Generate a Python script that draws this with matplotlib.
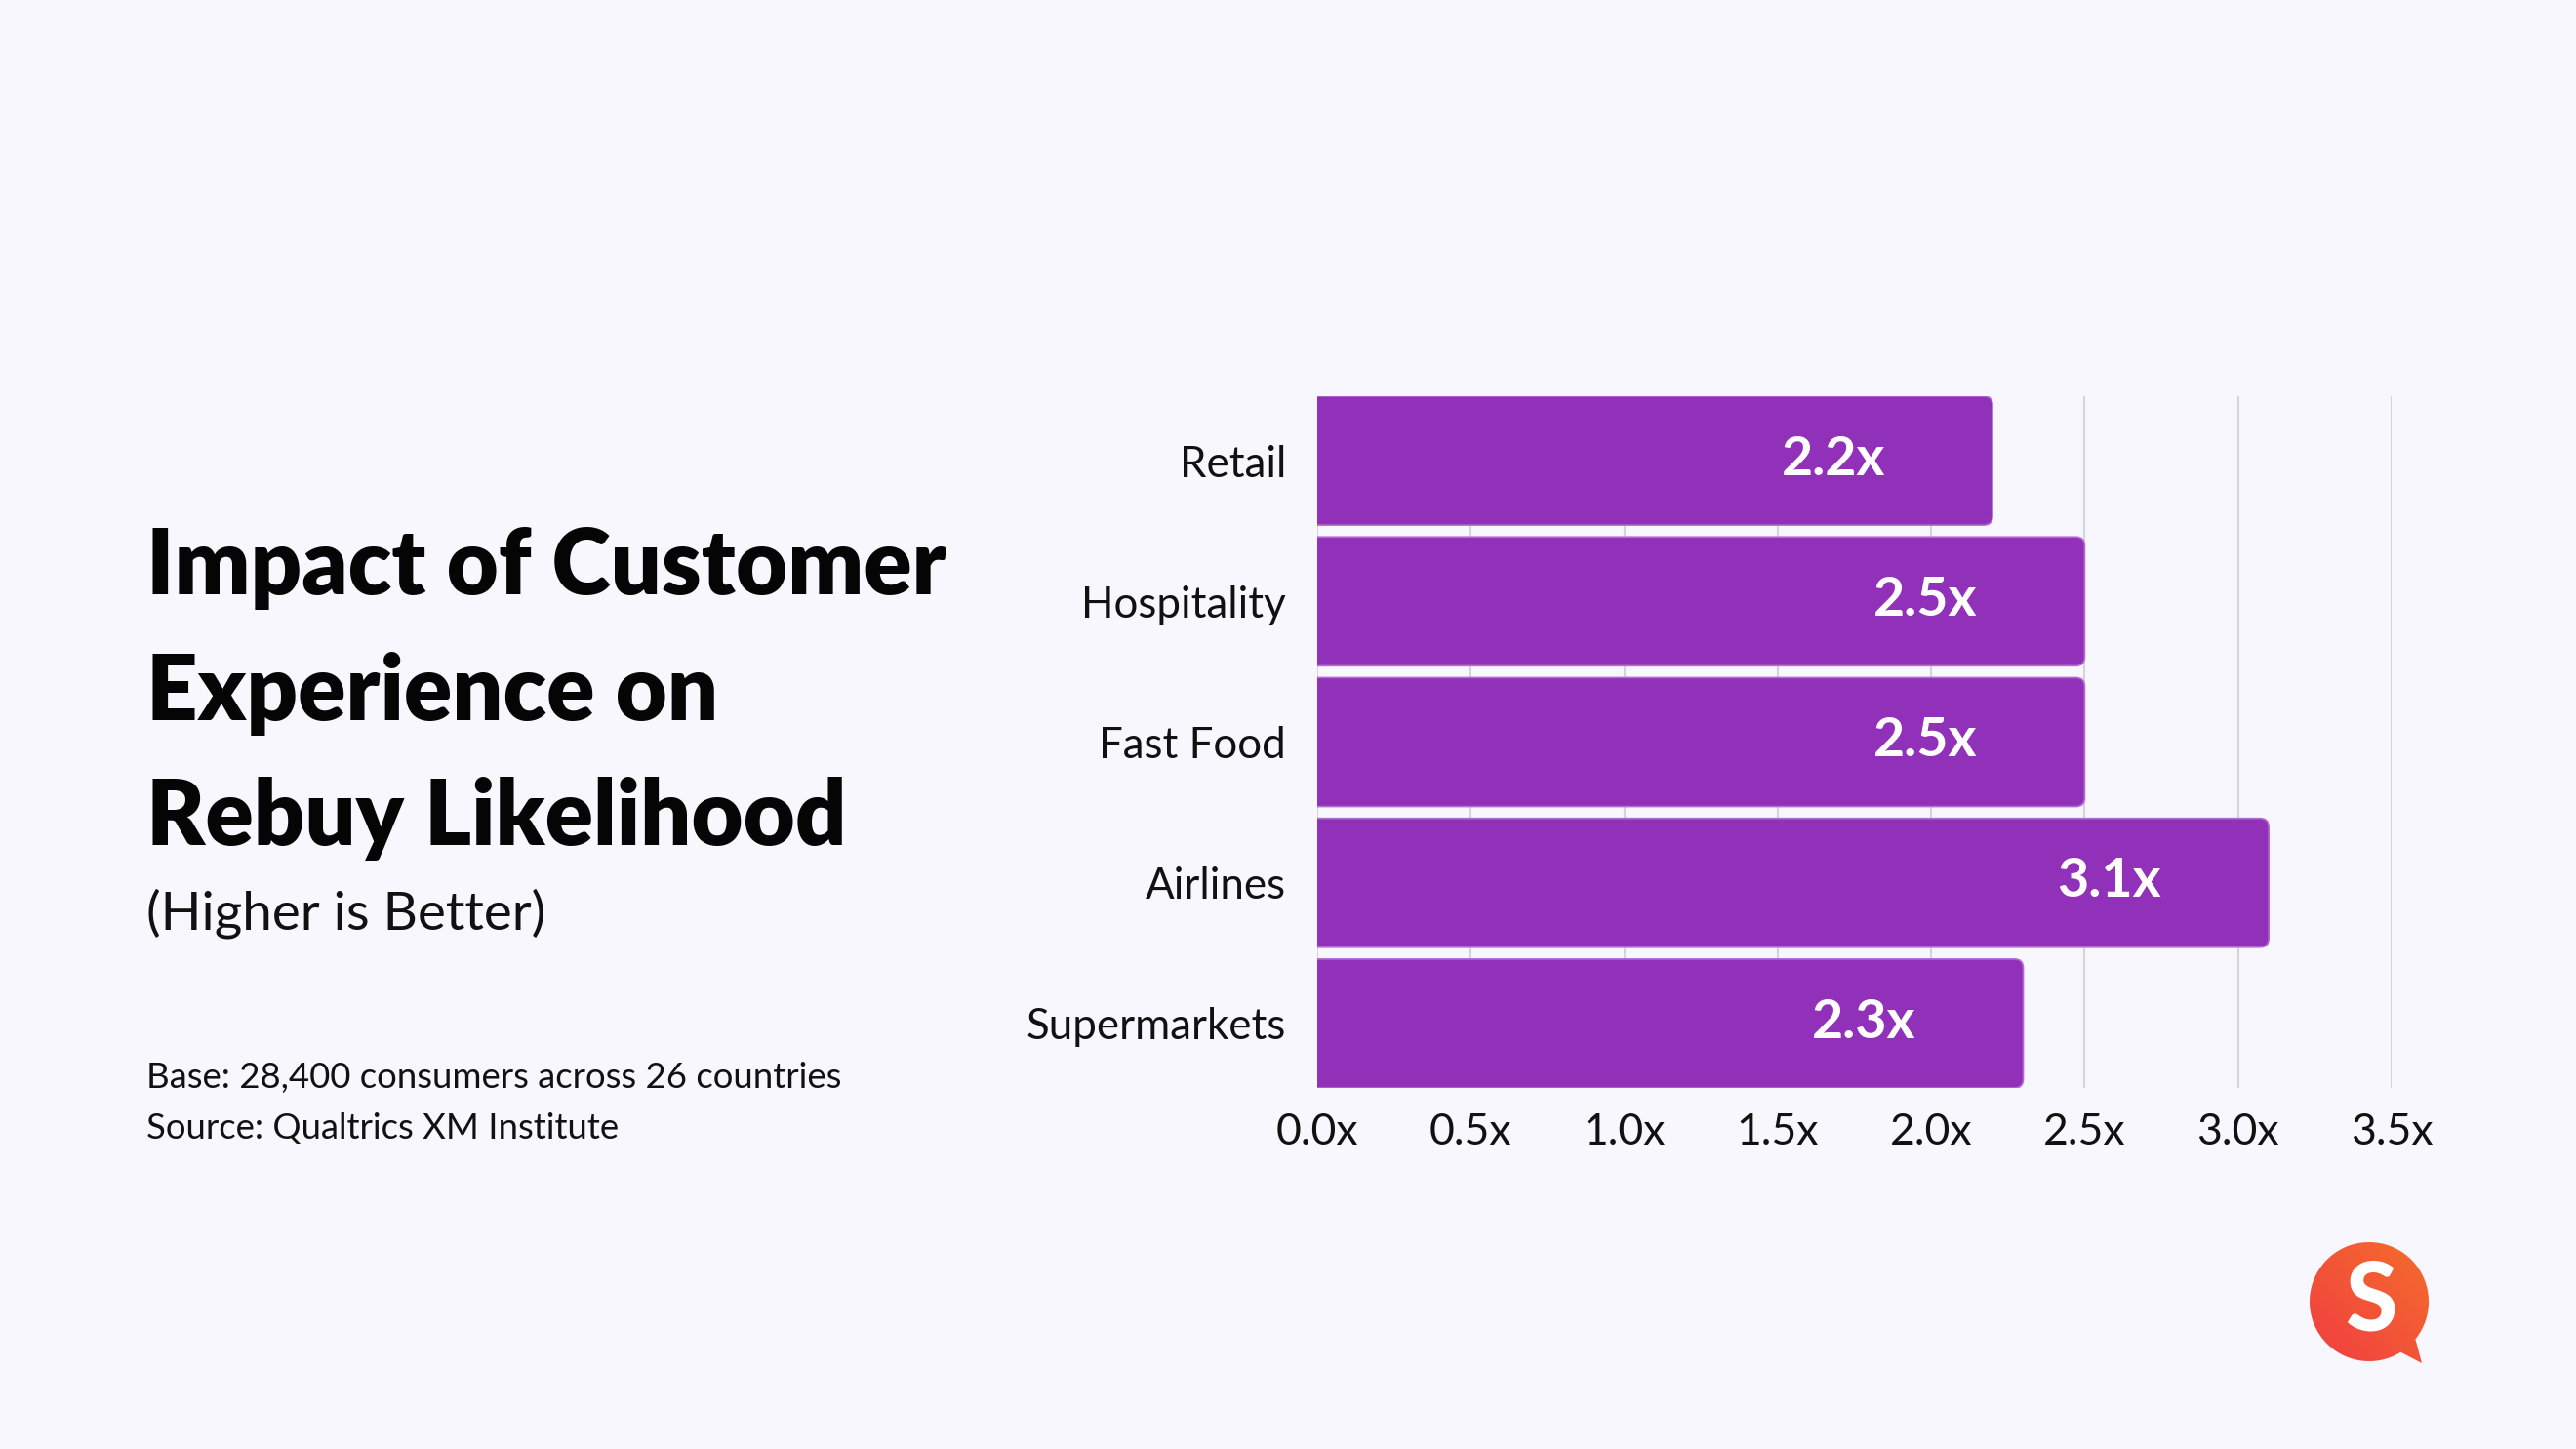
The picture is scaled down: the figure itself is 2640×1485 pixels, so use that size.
import matplotlib
matplotlib.use("Agg")
import matplotlib.pyplot as plt
import numpy as np
from matplotlib.patches import FancyBboxPatch, Polygon

categories = ["Retail", "Hospitality", "Fast Food", "Airlines", "Supermarkets"]
values = [2.2, 2.5, 2.5, 3.1, 2.3]
value_labels = ["2.2x", "2.5x", "2.5x", "3.1x", "2.3x"]
xticks = [0.0, 0.5, 1.0, 1.5, 2.0, 2.5, 3.0, 3.5]
xtick_labels = ["0.0x", "0.5x", "1.0x", "1.5x", "2.0x", "2.5x", "3.0x", "3.5x"]

title_lines = ["Impact of Customer", "Experience on", "Rebuy Likelihood"]
subtitle = "(Higher is Better)"
footer_lines = ["Base: 28,400 consumers across 26 countries", "Source: Qualtrics XM Institute"]

BG = "#F9F7FE"
BAR = "#9130B8"
GRID = "#D6D3DC"

plt.rcParams['font.family'] = ['Lato', 'DejaVu Sans']

W, H = 2640, 1485
fig = plt.figure(figsize=(W / 100, H / 100), dpi=100, facecolor=BG)

ax = fig.add_axes([1350 / W, 1 - 1115 / H, (2451 - 1350) / W, (1115 - 406) / H])
ax.set_facecolor(BG)
bh = 0.916
y = np.arange(len(categories))
bars = ax.barh(y, values, height=bh, color=BAR, zorder=2)
ax.set_xlim(0, 3.5)
ax.set_ylim(len(categories) - 1 + bh / 2, -bh / 2)

# rounded right corners: replace rectangles with fancy boxes
ax_w_px = (2451 - 1350)
ax_h_px = (1115 - 406)
x_per_px = 3.5 / ax_w_px
y_per_px = (len(categories) - 1 + bh) / ax_h_px
r_px = 9
for b in bars:
    b.set_visible(False)
    x0, y0 = b.get_x(), b.get_y()
    w, h = b.get_width(), b.get_height()
    ext = 0.1
    p = FancyBboxPatch((x0 - ext, y0), w + ext, h,
                       boxstyle=f"round,pad=0,rounding_size={r_px * x_per_px}",
                       mutation_aspect=y_per_px / x_per_px,
                       facecolor=BAR, edgecolor="#B46AD3", linewidth=1.2,
                       zorder=2, clip_on=True)
    ax.add_patch(p)

for yi, v, lab in zip(y, values, value_labels):
    ax.text(v - 0.35, yi - 0.01, lab, ha="right", va="center", color="white",
            fontsize=40, fontweight="bold", zorder=3)

ax.set_xticks(xticks)
ax.set_xticklabels(xtick_labels)
ax.set_yticks(y)
ax.set_yticklabels(categories)
ax.tick_params(axis="x", length=0, pad=18, labelsize=32, labelcolor="#111111")
ax.tick_params(axis="y", length=0, pad=23, labelsize=31.6, labelcolor="#111111")
for lbl in ax.get_yticklabels():
    lbl.set_va("center_baseline")
ax.grid(axis="x", color=GRID, linewidth=1.5, zorder=0)
ax.set_axisbelow(True)
for s in ax.spines.values():
    s.set_visible(False)

# Title block
tx = 150 / W
for line, yb in zip(title_lines, [609.5, 737.5, 865.5]):
    fig.text(tx, 1 - yb / H, line, ha="left", va="baseline", fontsize=66,
             fontweight="heavy", color="#050505")
fig.text(tx, 1 - 953 / H, subtitle, ha="left", va="baseline", fontsize=39.4, color="#111111")
for line, yb in zip(footer_lines, [1114.5, 1166.5]):
    fig.text(tx, 1 - yb / H, line, ha="left", va="baseline", fontsize=26.3, color="#111111")

# Logo
cx, cy, R = 2428, 1334, 61
S = 180
lax = fig.add_axes([(cx - S / 2) / W, 1 - (cy + S / 2) / H, S / W, S / H])
lax.set_xlim(-S / 2, S / 2)
lax.set_ylim(-S / 2, S / 2)
lax.axis("off")
gx, gy = np.meshgrid(np.linspace(-1, 1, 200), np.linspace(-1, 1, 200))
t = np.clip((gx + gy) / 2 * 0.6 + 0.5, 0, 1)
c1 = np.array([0.94, 0.22, 0.27])
c2 = np.array([0.96, 0.45, 0.16])
img = c1[None, None, :] * (1 - t[..., None]) + c2[None, None, :] * t[..., None]
im = lax.imshow(img, extent=[-S / 2, S / 2, -S / 2, S / 2], origin="lower", zorder=1)
tip = (54, -63)
circ_pts = [(R * np.cos(a), R * np.sin(a))
            for a in np.linspace(np.deg2rad(-39), np.deg2rad(360 - 58), 160)]
verts = circ_pts + [tip]
clip = Polygon(verts, closed=True, transform=lax.transData, facecolor="none", edgecolor="none")
lax.add_patch(clip)
im.set_clip_path(clip)
lax.text(2, -1, "S", ha="center", va="center", fontsize=70, fontweight="black",
         color="white", zorder=3)

fig.savefig("out.png", dpi=100, facecolor=BG)
